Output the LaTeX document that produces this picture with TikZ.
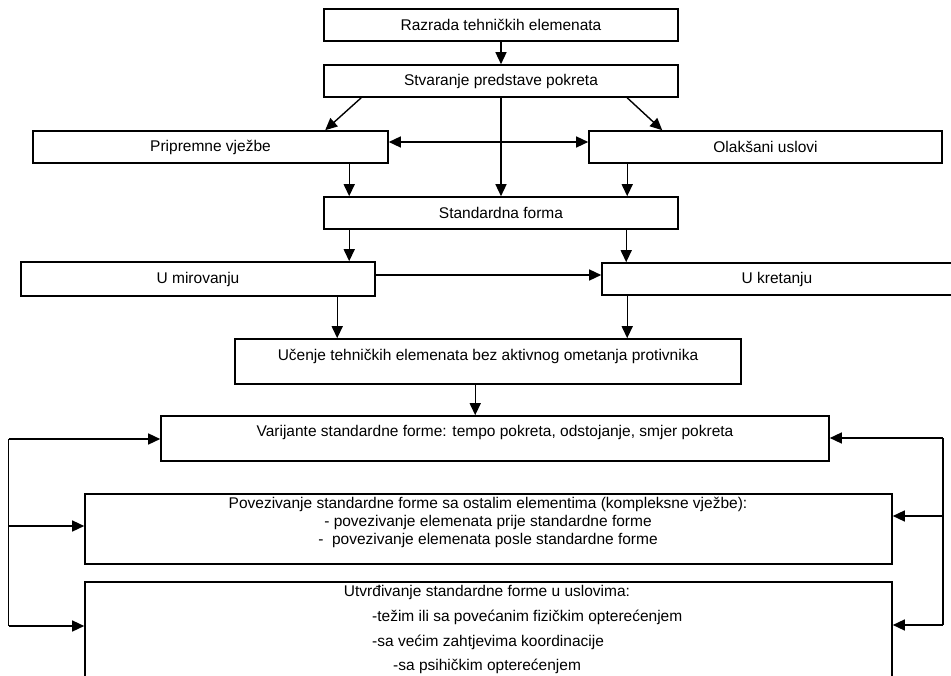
\documentclass[tikz,border=0pt]{standalone}
\usepackage{fontspec}
\setmainfont{Liberation Sans}
\usetikzlibrary{arrows.meta,calc}

\begin{document}
\begin{tikzpicture}[x=1pt,y=-1pt,
    every node/.style={font=\fontsize{15.5pt}{18pt}\selectfont},
    box/.style={draw,line width=1.6pt,inner sep=0pt},
    txt/.style={inner sep=0pt},
    arr/.style={line width=1.4pt,-{Triangle[length=12pt,width=11pt]}},
    dblarr/.style={line width=1.4pt,{Triangle[length=12pt,width=11pt]}-{Triangle[length=12pt,width=11pt]}}]
    \useasboundingbox (0,0) rectangle (951,676);
    \clip (0,0) rectangle (951,676);
    % boxes
    \node[box,minimum width=354pt,minimum height=32pt] (raz) at (501,25) {Razrada tehničkih elemenata};
    \node[box,minimum width=354pt,minimum height=32pt] (stv) at (501,81) {Stvaranje predstave pokreta};
    \node[box,minimum width=355pt,minimum height=32pt] (prip) at (210.5,147) {Pripremne vježbe};
    \node[box,minimum width=353pt,minimum height=32pt] (olak) at (765.5,147) {Olakšani uslovi};
    \node[box,minimum width=354pt,minimum height=32pt] (std) at (501,213) {Standardna forma};
    \node[box,minimum width=354pt,minimum height=34pt] (umir) at (198,279) {U mirovanju};
    \node[box,minimum width=350pt,minimum height=32pt] (ukret) at (777,279) {U kretanju};
    \node[box,minimum width=506pt,minimum height=45pt] (uc) at (488,361.5) {};
    \node[txt] (uctxt) at (488,356) {Učenje tehničkih elemenata bez aktivnog ometanja protivnika};
    \node[box,minimum width=668pt,minimum height=45pt] (var) at (495,438.5) {};
    \node[txt] (vartxt) at (495,432) {Varijante standardne forme: tempo pokreta, odstojanje, smjer pokreta};
    \node[box,minimum width=807pt,minimum height=70pt] (pov) at (488.5,529) {};
    \node[txt,align=center] (povtxt) at (488,522) {Povezivanje standardne forme sa ostalim elementima (kompleksne vježbe):\\
        - povezivanje elemenata prije standardne forme\\
        -\ \ povezivanje elemenata posle standardne forme};
    \node[box,minimum width=807pt,minimum height=130pt] (utv) at (488.5,647) {};
    \node[txt] (utv1) at (487,592) {Utvrđivanje standardne forme u uslovima:};
    \node[txt,anchor=west] (utv2) at (372,617) {-težim ili sa povećanim fizičkim opterećenjem};
    \node[txt,anchor=west] (utv3) at (372,642) {-sa većim zahtjevima koordinacije};
    \node[txt,anchor=west] (utv4) at (393,666) {-sa psihičkim opterećenjem};

    % connectors
    \draw[arr] (raz) -- (stv);
    \draw[arr] ($(stv.south west)+(38,0)$) -- ($(prip.north west)+(293,0)$);
    \draw[arr] ($(stv.south west)+(304,0)$) -- ($(olak.north west)+(74,0)$);
    \draw[arr] (stv) -- (std);
    \draw[dblarr] ($(prip.east)+(0,-5)$) coordinate (pe) -- (pe -| olak.west);
    \draw[arr] ($(prip.south west)+(317,0)$) coordinate (p1) -- (p1 |- std.north);
    \draw[arr] ($(olak.south west)+(39,0)$) coordinate (p2) -- (p2 |- std.north);
    \draw[arr] ($(std.south west)+(26,0)$) coordinate (p3) -- (p3 |- umir.north);
    \draw[arr] ($(std.south west)+(303,0)$) coordinate (p4) -- (p4 |- ukret.north);
    \draw[arr] ($(umir.east)+(0,-4)$) coordinate (p5) -- (p5 -| ukret.west);
    \draw[arr] ($(umir.south west)+(317,0)$) coordinate (p6) -- (p6 |- uc.north);
    \draw[arr] ($(ukret.south west)+(26,0)$) coordinate (p7) -- (p7 |- uc.north);
    \draw[arr] ($(uc.south west)+(241,0)$) coordinate (p8) -- (p8 |- var.north);

    % feedback lines
    \coordinate (lt) at (8.5,439);
    \coordinate (lm) at (8.5,526);
    \coordinate (lb) at (8.5,626);
    \coordinate (rt) at (943,438);
    \coordinate (rm) at (943,516);
    \coordinate (rb) at (943,625);
    \draw[line width=1.4pt] (lt) -- (lb);
    \draw[line width=1.4pt] (rt) -- (rb);
    \draw[arr] (lt) -- (lt -| var.west);
    \draw[arr] (lm) -- (lm -| pov.west);
    \draw[arr] (lb) -- (lb -| utv.west);
    \draw[arr] (rt) -- (rt -| var.east);
    \draw[arr] (rm) -- (rm -| pov.east);
    \draw[arr] (rb) -- (rb -| utv.east);
\end{tikzpicture}
\end{document}
